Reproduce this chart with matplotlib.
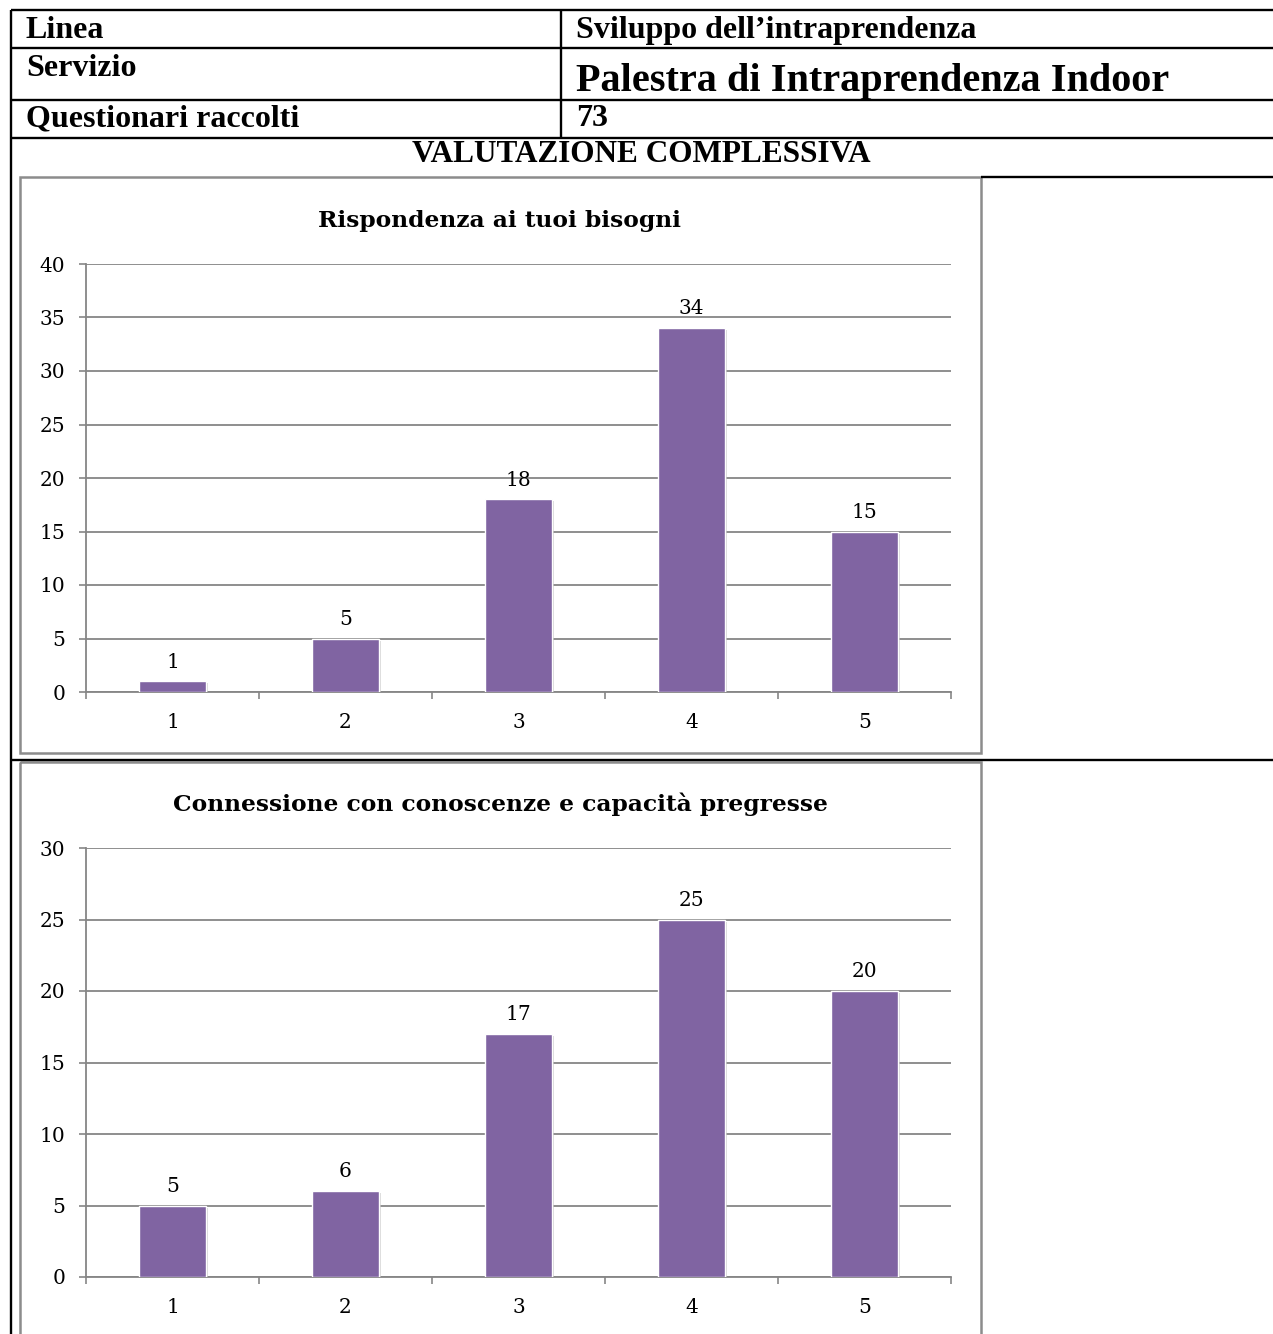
import matplotlib
matplotlib.use("Agg")
import matplotlib.pyplot as plt
import matplotlib.patheffects as pe
from matplotlib.patches import Rectangle

# data
categories = [1, 2, 3, 4, 5]
rispondenza = [1, 5, 18, 34, 15]
connessione = [5, 6, 17, 25, 20]
titles = ["Rispondenza ai tuoi bisogni", "Connessione con conoscenze e capacità pregresse"]
series = [rispondenza, connessione]
ymax = [40, 30]

W, H = 1273, 1334
fig = plt.figure(figsize=(W / 100, H / 100), dpi=100)

# background axes in pixel coords for the table
bg = fig.add_axes([0, 0, 1, 1])
bg.set_xlim(0, W)
bg.set_ylim(H, 0)
bg.axis("off")

black = dict(color="black", lw=1.7, solid_capstyle="butt")
for y in [10, 48, 100, 138, 760]:
    bg.plot([11, W], [y, y], **black)
bg.plot([981, W], [177, 177], **black)
bg.plot([11, 11], [10, H], **black)
bg.plot([561, 561], [10, 138], **black)

# gray frames of the two charts
frame_col = "#8c8c8c"
bg.add_patch(Rectangle((20, 177), 961, 576, fill=False, ec=frame_col, lw=1.8))
bg.add_patch(Rectangle((20, 762), 961, 700, fill=False, ec=frame_col, lw=1.8))

tfont = dict(family="Liberation Serif", weight="bold", color="black", va="baseline")
fs = 23
bg.text(26, 38, "Linea", fontsize=fs, **tfont)
bg.text(576, 38, "Sviluppo dell\u2019intraprendenza", fontsize=fs, **tfont)
bg.text(26, 76, "Servizio", fontsize=fs, **tfont)
bg.text(576, 91, "Palestra di Intraprendenza Indoor", fontsize=29, **tfont)
bg.text(26, 126, "Questionari raccolti", fontsize=fs, **tfont)
bg.text(576, 126, "73", fontsize=fs, **tfont)
bg.text(641, 162, "VALUTAZIONE COMPLESSIVA", fontsize=22.5, ha="center", **tfont)

grid_col = "#868686"
bar_col = "#8064a2"
cfont = "DejaVu Serif"
shadow = [pe.SimplePatchShadow(offset=(1.5, -1.5), shadow_rgbFace="#bbbbbb", alpha=0.6), pe.Normal()]

# axes boxes in pixels: left, right, top, bottom
boxes = [(86, 951, 264, 692), (86, 951, 848, 1277)]
title_y = [221, 804]

for i in range(2):
    l, r, t, b = boxes[i]
    ax = fig.add_axes([l / W, 1 - b / H, (r - l) / W, (b - t) / H])
    ax.set_facecolor("none")
    bars = ax.bar(categories, series[i], width=0.39, color=bar_col,
                  edgecolor="white", linewidth=1, zorder=3)
    for bar in bars:
        bar.set_path_effects(shadow)
    for x, v in zip(categories, series[i]):
        ax.annotate(str(v), (x, v), xytext=(0, 7), textcoords="offset points",
                    ha="center", va="bottom", fontsize=14.5, family=cfont)
    ax.set_xlim(0.5, 5.5)
    ax.set_ylim(0, ymax[i])
    ax.set_yticks(range(0, ymax[i] + 1, 5))
    ax.set_xticks(categories)
    ax.set_xticks([c + 0.5 for c in [-0] + categories], minor=True)
    ax.tick_params(axis="x", which="major", length=0, pad=15, labelsize=14.5)
    ax.tick_params(axis="x", which="minor", length=5, width=1.2, color=grid_col, direction="out")
    ax.tick_params(axis="y", length=5, width=1.2, color=grid_col, pad=10, labelsize=14.5)
    for lab in ax.get_xticklabels() + ax.get_yticklabels():
        lab.set_family(cfont)
    ax.grid(axis="y", color=grid_col, lw=1.3, zorder=0)
    ax.set_axisbelow(True)
    for s in ["top", "right"]:
        ax.spines[s].set_visible(False)
    for s in ["left", "bottom"]:
        ax.spines[s].set_color(grid_col)
        ax.spines[s].set_linewidth(1.3)
    bg.text(500, title_y[i], titles[i], fontsize=16.8, weight="bold", family=cfont,
            ha="center", va="center")

fig.savefig("out.png", dpi=100)
